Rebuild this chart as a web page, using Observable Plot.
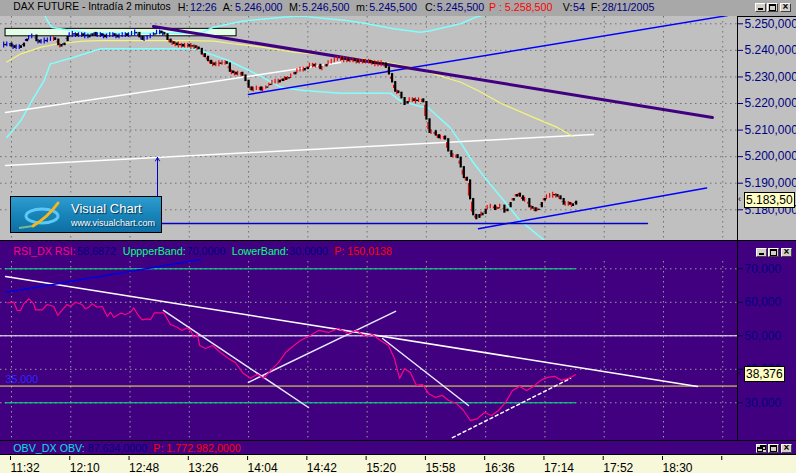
<!DOCTYPE html>
<html><head><meta charset="utf-8">
<script src="https://cdn.jsdelivr.net/npm/d3@7"></script>
<script src="https://cdn.jsdelivr.net/npm/@observablehq/plot@0.6"></script>
<style>
html,body{margin:0;padding:0;background:#c0c0c0;}
#root{position:relative;width:796px;height:473px;overflow:hidden;font-family:"Liberation Sans",Arial,sans-serif;}
.t{position:absolute;white-space:nowrap;font-size:10.7px;line-height:12px;}
.btn{position:absolute;width:9px;height:7px;background:#d4d0c8;border:1px solid;border-color:#fff #404040 #404040 #fff;overflow:hidden;}
.btn i{position:absolute;display:block;}
.lbl{position:absolute;background:#ffffc4;border:1px solid #000;font-size:12px;line-height:14px;height:14px;padding:0 1px;color:#000;white-space:nowrap;}
.arr{position:absolute;font-size:9px;line-height:9px;color:#000;}
</style></head><body><div id="root"></div><script>
// ---------------- DATA ----------------
const firstBar = "11:28";            // 2-minute bars
const closes = [
  5242,5242.5,5241.5,5241,5241.5,5241,5243,5244.5,5245,5245.5,
  5243.5,5243,5243.5,5243.5,5244,5244.5,5244,5242,5241.5,5243,
  5245.5,5246,5246,5245.5,5246,5245.5,5245.5,5245,5246.5,5245.5,
  5246,5245.5,5245,5245.5,5246,5245.5,5245,5245.5,5246,5245.5,
  5246,5246.5,5246.5,5245,5244,5244.5,5245,5245.5,5246.5,5247,
  5246.5,5246,5244,5243,5242.5,5242,5242,5241.5,5242,5241.5,
  5241.5,5241,5240.5,5238.5,5237.5,5236,5235,5234.5,5235,5235,
  5235.5,5235,5232,5231.5,5231,5231.5,5230.5,5228.5,5226,5225,
  5225.5,5226,5225,5225.5,5226.5,5227.5,5228,5228.5,5228,5229.5,
  5229,5230,5230.5,5232,5232.5,5233,5232.5,5234,5234.5,5234,
  5234.5,5233,5233.5,5235,5235.5,5236,5236.5,5237,5236.5,5236.5,
  5236,5236.5,5236,5235.5,5236,5235.5,5236,5235.5,5235,5235,
  5235,5235,5233.5,5231,5228,5224.5,5224,5222,5219.5,5221,
  5221.5,5221,5221,5221.5,5220.5,5214,5209,5209.5,5208,5207,
  5207.5,5206.5,5202,5200,5200.5,5199.5,5196,5192,5191,5184,
  5178,5176.5,5178.5,5178,5180.5,5181,5181.5,5180,5181,5181.5,
  5179,5180.5,5183,5184.5,5186,5185,5183.5,5184,5181,5180.5,
  5179.5,5180.5,5183,5184.5,5185,5185.5,5185.5,5185,5184,5182,
  5182.5,5182,5181.5,5183.5
];
const blueBarRanges = [[0,15],[19,51]];   // bar indices drawn with blue wicks

// indicator curves: time (minutes of day) / value
const yellowT = [689,698,711,722,738,749,805,822,834,852,873,895,916,937,948,959,972,980,991,1006,1027,1042,1052];
const yellowV = [5235.6,5238.7,5241.2,5242.5,5243.5,5243.7,5243.7,5243.5,5242.5,5241.3,5239.3,5238.1,5236.8,5235.0,5233.7,5231.8,5229.4,5228.0,5224.9,5220.0,5214.7,5211.0,5207.6];
const cyanLoT = [689,698,706,713,717,719,732,749,807,813,831,852,865,879,903,935,941,954,959,973,980,988,997,1006,1018,1036];
const cyanLoV = [5207.2,5213.6,5221.9,5228.7,5235.1,5235.2,5237.4,5240.6,5240.6,5240.0,5236.2,5230.2,5226.0,5224.9,5223.9,5223.9,5221.1,5218.9,5218.5,5211.0,5205.3,5197.8,5191.0,5184.6,5176.0,5167.3];
const cyanUpT = [713,715,718,743,813,821,839,852,866,877,907,920,937,954,959,980,990,999];
const cyanUpV = [5253.5,5251.2,5248.6,5246.4,5246.4,5248.6,5250.9,5251.7,5252.5,5252.9,5251.2,5250.0,5248.1,5246.8,5247.2,5250.0,5252.6,5253.8];

// drawn objects on price panel: [time, price]
const purpleTrend = [[783.0,5249.0],[1141.4,5214.7]];
const blueUpTrend = [[843.9,5223.4],[1151.0,5253.1]];
const blueLowTrend = [[991.4,5172.9],[1137.6,5188.2]];
const whiteTrend1 = [[688.2,5216.6],[902.9,5235.4]];
const whiteTrend2 = [[688.2,5196.7],[1065.1,5208.3]];
const measureBase = [[785.6,5174.8],[1099.7,5174.8]];
const measureArrow = [[785.6,5174.8],[785.6,5199.7]];
const greenBox = {t1:688.2, t2:836.3, p1:5245.3, p2:5248.1};

// RSI
const rsiT = [689.6,693.5,695.7,697.8,699.9,703.1,706.3,707.4,711.7,714.9,719.1,721.7,724.5,727.7,729.8,733.0,737.3,739.4,741.6,743.7,746.9,750.2,753.4,755.5,757.6,761.9,765.1,768.3,770.4,772.6,775.8,779.0,781.1,783.7,789.6,791.8,793.9,798.2,801.4,804.6,806.8,808.9,811.1,812.7,816.4,820.9,826.0,831.1,835.6,840.1,845.2,849.7,853.6,858.1,863.2,867.7,872.2,877.3,882.4,888.8,895.2,901.6,908.0,913.2,918.9,923.4,928.6,933.7,937.5,940.8,944.0,947.8,951.6,955.5,959.3,963.8,968.3,972.2,977.3,981.8,986.3,990.8,995.3,999.7,1004.2,1008.7,1013.2,1017.7,1022.2,1026.7,1031.2,1035.6,1040.1,1044.6,1049.1,1053.6];
const rsiV = [59.85,60.03,57.55,57.55,59.55,61.04,59.55,57.76,57.76,59.34,58.75,56.06,57.76,59.34,58.75,60.03,59.34,58.06,58.54,59.55,58.54,58.75,55.76,57.04,55.55,56.75,56.36,57.04,58.36,56.57,54.78,55.07,54.78,56.87,56.87,55.07,53.37,52.57,51.58,52.39,51.58,49.58,50.39,47.10,46.2,47.1,45.0,43.2,42.0,39.0,37.3,38.5,37.3,39.6,42.0,45.0,46.8,48.6,49.8,51.6,51.0,52.2,50.7,51.6,49.8,50.4,48.6,47.1,43.2,37.3,40.2,39.0,35.2,35.5,32.8,31.6,32.2,30.7,29.8,27.7,24.7,25.3,27.1,26.2,27.7,30.1,33.7,34.9,33.7,34.9,36.7,37.6,37.9,36.7,37.3,38.376];
const upperBand = 70, lowerBand = 30, midLevel = 50, level35 = 35;
const rsiWhiteLong = [[688.2,67.7],[1131.8,34.9]];
const rsiBlue = [[688.2,62.9],[813.2,72.8]];
const rsiSegA = [[789.4,57.6],[882.4,28.6]];
const rsiSegB = [[843.9,36.1],[938.2,57.3]];
const rsiSegC = [[929.9,49.2],[985.0,29.2]];
const rsiDash = [[974.7,19.6],[1050.4,37.3]];

// axes
const priceTicks = [5180,5190,5200,5210,5220,5230,5240,5250];
const rsiTicks = [30,40,50,60,70];
const timeLabels = ["11:32","12:10","12:48","13:26","14:04","14:42","15:20","15:58","16:36","17:14","17:52","18:30"];
const extraTick = "19:08";
const xDomain = [684.95, 1157.45];
const priceDomain = [5168.44, 5252.75];
const rsiDomain = [18.75, 78.15];

// header texts
const headerParts = [["DAX FUTURE - Intradía 2 minutos","k"],["H:","k"],["12:26","v"],["A:","k"],["5.246,000","v"],["M:","k"],["5.246,500","v"],["m:","k"],["5.245,500","v"],["C:","k"],["5.245,500","v"],["P : 5.258,500","r"],["V:","k"],["54","v"],["F:","k"],["28/11/2005","v"]];
const rsiHeaderParts = [["RSI_DX RSI:","p"],["58,6872","v"],["UppperBand:","g"],["70,0000","v"],["LowerBand:","g"],["30,0000","v"],["P: 150,0138","r"]];
const obvHeaderParts = [["OBV_DX OBV:","c"],["87.634,0000","v"],["P: 1.772.982,0000","r"]];

// ---------------- LAYOUT ----------------
const FONT = '"Liberation Sans", Arial, sans-serif';
const root = document.getElementById("root");
const mins = s => { const [h,m] = s.split(":").map(Number); return h*60+m; };
const loc = d3.formatLocale({decimal:",", thousands:".", grouping:[3], currency:["",""]});
const f3 = loc.format(",.3f"), f2 = loc.format(",.2f");
const colorOf = {k:"#000", v:"#000080", r:"#ff0000", p:"#ff0080", g:"#00ff80", c:"#00e0e0"};

function div(css, parent=root){ const d=document.createElement("div"); d.style.cssText=css; parent.appendChild(d); return d; }
function texts(parts, xs, top, firstSize){
  parts.forEach(([s,role],i)=>{ const e=div(`left:${xs[i]}px;top:${top}px;color:${colorOf[role]}`+(i===0&&firstSize?`;font-size:${firstSize}px`:"")); e.className="t"; e.textContent=s; });
}

// backgrounds
div("position:absolute;left:0;top:0;width:796px;height:16px;background:#a8a8a8");
const priceHolder = div("position:absolute;left:0;top:16px;width:796px;height:224px");
div("position:absolute;left:0;top:240px;width:796px;height:1px;background:#000");
const rsiHolder = div("position:absolute;left:0;top:241px;width:796px;height:199px");
div("position:absolute;left:0;top:440px;width:796px;height:1px;background:#000");
div("position:absolute;left:0;top:441px;width:796px;height:13px;background:#400080");
div("position:absolute;left:0;top:454px;width:796px;height:1px;background:#000");
const axisHolder = div("position:absolute;left:0;top:455px;width:796px;height:18px;background:#f7f7d9");

// bars
const t0 = mins(firstBar);
const bars = closes.map((c,i)=>({t:t0+2*i, o:i?closes[i-1]:c, c,
  col: blueBarRanges.some(([a,b])=>i>=a&&i<=b) ? "#0000ff" : "#ff0000"}));
const tickMins = timeLabels.map(mins).concat([mins(extraTick)]);
const XY = {x:d=>d[0], y:d=>d[1]};

const pricePlot = Plot.plot({
  width:796, height:224, marginLeft:0, marginRight:59, marginTop:0, marginBottom:0,
  style:{background:"#c0c0c0", fontFamily:FONT, fontSize:"12px", display:"block"},
  x:{domain:xDomain, axis:null}, y:{domain:priceDomain, axis:null}, color:{type:"identity"},
  marks:[
    Plot.ruleY(priceTicks,{stroke:"#707070", strokeDasharray:"1.5,3.5"}),
    Plot.ruleX(tickMins,{stroke:"#707070", strokeDasharray:"1.5,3.5"}),
    Plot.rect([greenBox],{x1:"t1",x2:"t2",y1:"p1",y2:"p2",fill:"#e2fee6",stroke:"#000"}),
    Plot.line(d3.zip(cyanLoT,cyanLoV),{...XY,stroke:"#80ffff",clip:true}),
    Plot.line(d3.zip(cyanUpT,cyanUpV),{...XY,stroke:"#80ffff",clip:true}),
    Plot.line(whiteTrend1,{...XY,stroke:"#fff",strokeWidth:1.5}),
    Plot.line(whiteTrend2,{...XY,stroke:"#fff",strokeWidth:1.5}),
    Plot.line(d3.zip(yellowT,yellowV),{...XY,stroke:"#f4f47a",strokeWidth:1.2}),
    Plot.line(blueUpTrend,{...XY,stroke:"#0000ff",clip:true}),
    Plot.line(blueLowTrend,{...XY,stroke:"#0000ff"}),
    Plot.line(measureBase,{...XY,stroke:"#0000c8"}),
    Plot.arrow([measureArrow],{x1:d=>d[0][0],y1:d=>d[0][1],x2:d=>d[1][0],y2:d=>d[1][1],stroke:"#0000c8",headLength:6,strokeWidth:1}),
    Plot.line(purpleTrend,{...XY,stroke:"#400080",strokeWidth:3}),
    Plot.ruleX(bars,{x:"t",y1:d=>Math.min(d.o,d.c),y2:d=>Math.max(d.o,d.c),stroke:"col",strokeWidth:1.2,dx:-1.6,insetTop:-3,insetBottom:-3}),
    Plot.ruleX(bars,{x:"t",y1:"o",y2:"c",stroke:"#000",strokeWidth:2.2,insetTop:-0.7,insetBottom:-0.7}),
    Plot.axisY({anchor:"right",ticks:priceTicks,tickFormat:f3,tickSize:5,tickPadding:2,fill:"#000080",stroke:"#000080",fontSize:12}),
    Plot.ruleX([xDomain[1]],{stroke:"#000"})
  ]
});
priceHolder.appendChild(pricePlot);
div("position:absolute;left:737px;top:16px;width:59px;height:1px;background:#000");

const rsiData = d3.zip(rsiT,rsiV);
const bandSpan = [bars[0].t, bars[bars.length-1].t];
const rsiPlot = Plot.plot({
  width:796, height:199, marginLeft:0, marginRight:59, marginTop:0, marginBottom:0,
  style:{background:"#400080", fontFamily:FONT, fontSize:"12px", display:"block"},
  x:{domain:xDomain, axis:null}, y:{domain:rsiDomain, axis:null},
  marks:[
    Plot.ruleY(rsiTicks,{stroke:"#9a9a9a", strokeDasharray:"1.5,3.5"}),
    Plot.ruleX(tickMins,{stroke:"#9a9a9a", strokeDasharray:"1.5,3.5"}),
    Plot.ruleY([midLevel],{stroke:"#fff"}),
    Plot.ruleY([level35],{stroke:"#f0f050"}),
    Plot.text([level35],{x:xDomain[0],y:d=>d,text:d=>loc.format(".3f")(d).replace(",","."),dx:5,dy:-3,textAnchor:"start",lineAnchor:"bottom",fill:"#2a2aff",fontSize:10.7}),
    Plot.ruleY([upperBand,lowerBand],{x1:bandSpan[0],x2:bandSpan[1],stroke:"#00f080"}),
    Plot.line(rsiWhiteLong,{...XY,stroke:"#fff"}),
    Plot.line(rsiBlue,{...XY,stroke:"#0000e0",clip:true}),
    Plot.line(rsiSegA,{...XY,stroke:"#e8e8ff"}),
    Plot.line(rsiSegB,{...XY,stroke:"#e8e8ff"}),
    Plot.line(rsiSegC,{...XY,stroke:"#e8e8ff"}),
    Plot.line(rsiDash,{...XY,stroke:"#fff",strokeDasharray:"3,3"}),
    Plot.line(rsiData,{...XY,stroke:"#ff0088",strokeWidth:1.2}),
    Plot.axisY({anchor:"right",ticks:rsiTicks,tickFormat:f3,tickSize:5,tickPadding:2,fill:"#000080",stroke:"#000040",fontSize:12}),
    Plot.ruleX([xDomain[1]],{stroke:"#000"})
  ]
});
rsiHolder.appendChild(rsiPlot);
// header strip of the RSI panel (covers grid)
div("position:absolute;left:0;top:241px;width:737px;height:17px;background:#400080");

const labelOf = new Map(timeLabels.map(s=>[mins(s),s]));
const axisPlot = Plot.plot({
  width:796, height:18, marginLeft:0, marginRight:59, marginTop:0, marginBottom:17,
  style:{background:"transparent", fontFamily:FONT, fontSize:"12px", color:"#000", display:"block", overflow:"visible"},
  x:{domain:xDomain, axis:null},
  marks:[
    Plot.axisX({anchor:"bottom",ticks:tickMins,tickFormat:m=>labelOf.get(m)??"",tickSize:4,tickPadding:3,textAnchor:"start",dx:-1,fill:"#000",stroke:"#000",fontSize:12})
  ]
});
axisHolder.appendChild(axisPlot);

// header texts
texts(headerParts,[13.3,177.7,190,222.7,235,289,302,356,369.3,425,436.7,489,562.7,573,590.7,601.7],1,10.3);
texts(rsiHeaderParts,[13.3,77.3,122.7,186.7,231.7,289.3,334.3],245.3);
texts(obvHeaderParts,[13.3,87.7,153.3],442);

// last value labels positioned with the plots' own scales
const yP = 16 + pricePlot.scale("y").apply(closes[closes.length-1]);
const yR = 241 + rsiPlot.scale("y").apply(rsiV[rsiV.length-1]);
const lp = div(`left:744px;top:${Math.round(yP-8)}px`); lp.className="lbl"; lp.textContent=f2(closes[closes.length-1]);
const lr = div(`left:744px;top:${Math.round(yR-8)}px`); lr.className="lbl"; lr.textContent=f3(rsiV[rsiV.length-1]);
[yP,yR].forEach(y=>{ const a=div(`left:738px;top:${Math.round(y-5)}px`); a.className="arr"; a.textContent="‹"; });

// window buttons
function btn(x,y,kind){
  const b=div(`left:${x}px;top:${y}px`); b.className="btn";
  if(kind==="min") b.innerHTML='<i style="left:2px;top:4px;width:5px;height:2px;background:#000"></i>';
  if(kind==="max") b.innerHTML='<i style="left:1px;top:0px;width:5px;height:4px;border:1px solid #000;border-top-width:2px"></i>';
  if(kind==="restore") b.innerHTML='<i style="left:3px;top:0px;width:4px;height:2px;border:1px solid #000;border-top-width:2px"></i><i style="left:0px;top:2px;width:4px;height:2px;border:1px solid #000;border-top-width:2px;background:#d4d0c8"></i>';
  if(kind==="close") b.innerHTML='<i style="left:0;top:-3px;width:9px;font:bold 10px/12px Arial;text-align:center">×</i>';
}
[[755,3],[756,248],[756,444]].forEach(([x,y],k)=>{ btn(x,y,k===2?"restore":"min"); btn(x+12,y,"max"); btn(x+25,y,"close"); });

// logo
const logo = div("position:absolute;left:10px;top:196px;width:150px;height:35px;border:1px solid #000;background:linear-gradient(to bottom,#2f9ccf 0%,#1a86bb 45%,#0e6fa3 100%);overflow:hidden");
logo.innerHTML = '<svg width="150" height="35" style="position:absolute;left:0;top:0"><path d="M8 31 L22 29" stroke="#9fd890" stroke-width="2" opacity="0.7"/><ellipse cx="31" cy="19" rx="16" ry="7" fill="none" stroke="#5cc8f8" stroke-width="3"/><path d="M22 29 Q37 20 47 6" stroke="#f4b818" stroke-width="3" fill="none" stroke-linecap="round"/></svg>'
 + '<div style="position:absolute;left:60px;top:5px;font-size:13px;line-height:13px;color:#fff;text-shadow:1px 1px 1px #02324e;white-space:nowrap">Visual Chart</div>'
 + '<div style="position:absolute;left:60px;top:21.5px;font-size:9px;line-height:9px;color:#fff;text-shadow:1px 1px 1px #02324e;white-space:nowrap">www.visualchart.com</div>';
</script></body></html>
